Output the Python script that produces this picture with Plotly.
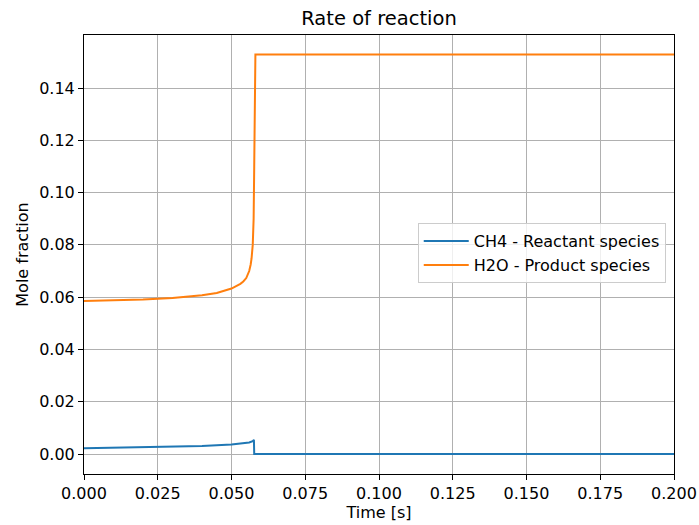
import plotly.graph_objects as go

# H2O - Product species
t_h2o = [0, 0.01, 0.02, 0.03, 0.04, 0.045, 0.05, 0.053, 0.054, 0.055, 0.0555, 0.056,
         0.0565, 0.0568, 0.0572, 0.0575, 0.0577, 0.0579, 0.0581, 0.2]
h2o = [0.0585, 0.0587, 0.0591, 0.0597, 0.0607, 0.0616, 0.0633, 0.0651, 0.0660, 0.0673,
       0.0684, 0.0700, 0.0725, 0.0748, 0.0800, 0.0900, 0.1100, 0.1400, 0.1528, 0.1528]

# CH4 - Reactant species
t_ch4 = [0, 0.01, 0.02, 0.03, 0.04, 0.05, 0.054, 0.056, 0.0572, 0.0576, 0.0577, 0.2]
ch4 = [0.0022, 0.0024, 0.0026, 0.0028, 0.0031, 0.0036, 0.0040, 0.0044, 0.0049, 0.0054,
       0.0000, 0.0000]

# Tick values
x_ticks = [0, 0.025, 0.05, 0.075, 0.1, 0.125, 0.15, 0.175, 0.2]
y_ticks = [0, 0.02, 0.04, 0.06, 0.08, 0.10, 0.12, 0.14]

FONT = "DejaVu Sans"
FS = 16

fig = go.Figure()
fig.add_trace(go.Scatter(x=t_ch4, y=ch4, mode="lines", name="CH4 - Reactant species",
                         line=dict(color="#1f77b4", width=2)))
fig.add_trace(go.Scatter(x=t_h2o, y=h2o, mode="lines", name="H2O - Product species",
                         line=dict(color="#ff7f0e", width=2)))

axis_common = dict(showline=True, linecolor="black", linewidth=1, mirror=True,
                   ticks="outside", ticklen=5, tickcolor="black", tickwidth=1,
                   showgrid=True, gridcolor="#b0b0b0", gridwidth=1, zeroline=False,
                   automargin=False,
                   tickfont=dict(family=FONT, size=FS, color="black"))

fig.update_layout(
    width=699, height=525,
    margin=dict(l=84, r=25, t=35, b=51),
    paper_bgcolor="white", plot_bgcolor="white",
    font=dict(family=FONT, size=FS, color="black"),
    title=dict(text="Rate of reaction", x=(84 + 674) / 2 / 699, xanchor="center",
               y=1 - 18 / 525, yanchor="middle", font=dict(size=19.5, family=FONT)),
    xaxis=dict(range=[0, 0.2], tickmode="array", tickvals=x_ticks, tickformat=".3f",
               title=dict(text="Time [s]", font=dict(size=FS, family=FONT), standoff=4),
               **axis_common),
    yaxis=dict(range=[-0.00765, 0.1603], tickmode="array", tickvals=y_ticks, tickformat=".2f",
               title=dict(text="Mole fraction", font=dict(size=FS, family=FONT), standoff=6),
               **axis_common),
    legend=dict(x=0.986, y=0.503, xanchor="right", yanchor="middle", itemwidth=45,
                bgcolor="rgba(255,255,255,0.8)", bordercolor="#cccccc", borderwidth=1,
                font=dict(family=FONT, size=FS)),
    showlegend=True,
)

fig.write_html("out.html")
